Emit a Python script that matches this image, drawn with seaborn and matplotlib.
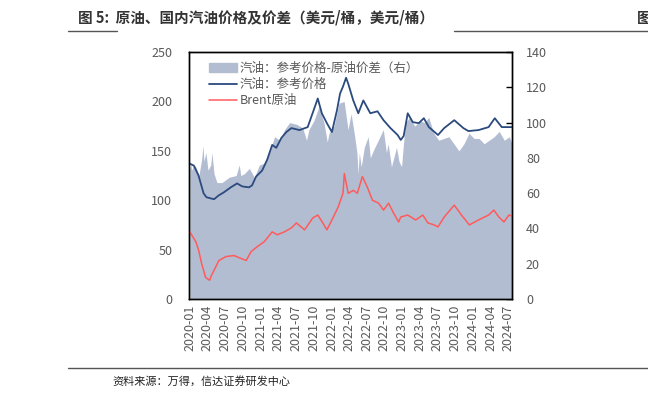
import pandas as pd
import seaborn as sns
import matplotlib.pyplot as plt
from matplotlib.patches import Patch
from matplotlib.lines import Line2D

# 汽油：参考价格（左轴）
gas_dates = ["2020-01-01", "2020-01-22", "2020-02-15", "2020-03-12", "2020-03-27", "2020-05-05",
             "2020-05-30", "2020-06-25", "2020-07-30", "2020-09-01", "2020-09-27", "2020-11-01",
             "2020-11-17", "2020-12-08", "2021-01-08", "2021-02-03", "2021-03-01", "2021-03-22",
             "2021-04-17", "2021-05-13", "2021-06-08", "2021-07-20", "2021-08-31", "2021-10-06",
             "2021-10-22", "2021-11-12", "2021-12-08", "2022-01-03", "2022-01-29", "2022-02-14",
             "2022-03-01", "2022-03-17", "2022-03-28", "2022-04-23", "2022-05-19", "2022-06-14",
             "2022-07-20", "2022-08-26", "2022-09-26", "2022-11-01", "2022-12-08", "2022-12-24",
             "2023-01-08", "2023-01-29", "2023-02-24", "2023-03-27", "2023-04-22", "2023-05-18",
             "2023-07-04", "2023-08-05", "2023-09-26", "2023-11-12", "2023-12-08", "2024-01-29",
             "2024-03-21", "2024-04-22", "2024-05-28", "2024-07-19"]
gas_price = [137, 135, 125, 107, 103, 101, 105, 108, 113, 117, 114, 113,
             115, 124, 130, 141, 156, 153, 163, 169, 173, 171, 174, 194,
             203, 188, 178, 169, 191, 208, 215, 224, 218, 201, 188, 201,
             188, 190, 181, 173, 166, 161, 165, 188, 179, 178, 183, 174,
             166, 173, 181, 173, 170, 171, 174, 183, 174, 174]

# Brent原油（左轴）
brent_dates = ["2020-01-01", "2020-02-01", "2020-02-15", "2020-03-02", "2020-03-22", "2020-04-12",
               "2020-04-22", "2020-05-05", "2020-05-30", "2020-07-06", "2020-08-16", "2020-09-22",
               "2020-10-18", "2020-11-12", "2020-12-14", "2021-01-19", "2021-03-01", "2021-03-27",
               "2021-05-03", "2021-06-08", "2021-07-04", "2021-08-15", "2021-09-26", "2021-10-22",
               "2021-11-17", "2021-12-08", "2022-01-03", "2022-02-04", "2022-03-01", "2022-03-08",
               "2022-03-28", "2022-04-23", "2022-05-14", "2022-06-09", "2022-07-05", "2022-07-31",
               "2022-09-01", "2022-09-26", "2022-10-22", "2022-11-17", "2022-12-13", "2022-12-24",
               "2023-01-29", "2023-03-11", "2023-04-17", "2023-05-13", "2023-06-14", "2023-07-04",
               "2023-08-05", "2023-09-26", "2023-11-02", "2023-12-13", "2024-01-29", "2024-03-21",
               "2024-04-17", "2024-05-13", "2024-06-08", "2024-07-04", "2024-07-19"]
brent_price = [68, 58, 50, 36, 22, 19, 24, 29, 39, 43, 44, 41,
               39, 48, 53, 58, 68, 65, 68, 72, 77, 70, 82, 85,
               77, 70, 80, 93, 107, 127, 107, 110, 107, 124, 113, 100,
               97, 90, 97, 87, 78, 83, 85, 80, 85, 77, 75, 73,
               83, 95, 85, 75, 80, 85, 90, 83, 78, 85, 84]

# 汽油：参考价格-原油价差（右轴）
spread_dates = ["2020-01-01", "2020-01-06", "2020-01-11", "2020-01-20", "2020-02-01", "2020-02-17",
                "2020-03-02", "2020-03-09", "2020-03-14", "2020-03-24", "2020-04-04", "2020-04-18",
                "2020-04-24", "2020-05-05", "2020-05-20", "2020-06-15", "2020-07-22", "2020-08-27",
                "2020-09-12", "2020-09-20", "2020-10-08", "2020-11-03", "2020-11-29", "2020-12-25",
                "2021-01-20", "2021-02-15", "2021-03-13", "2021-04-08", "2021-05-04", "2021-05-30",
                "2021-07-05", "2021-08-05", "2021-08-25", "2021-09-06", "2021-10-02", "2021-10-28",
                "2021-11-23", "2021-12-10", "2021-12-19", "2022-01-14", "2022-02-09", "2022-03-07",
                "2022-03-27", "2022-04-12", "2022-04-28", "2022-05-12", "2022-05-18", "2022-05-24",
                "2022-06-03", "2022-06-19", "2022-07-09", "2022-07-20", "2022-08-04", "2022-08-30",
                "2022-09-25", "2022-10-11", "2022-10-20", "2022-11-06", "2022-12-02", "2022-12-15",
                "2022-12-28", "2023-01-07", "2023-01-18", "2023-02-08", "2023-03-06", "2023-04-01",
                "2023-04-27", "2023-05-17", "2023-06-12", "2023-07-08", "2023-08-03", "2023-08-29",
                "2023-09-24", "2023-10-20", "2023-11-15", "2023-12-11", "2024-01-06", "2024-02-01",
                "2024-02-27", "2024-03-24", "2024-04-19", "2024-05-15", "2024-06-10", "2024-07-06",
                "2024-07-19"]
spread = [73, 77, 73, 76, 75, 70, 79, 87, 78, 83, 73, 76,
          83, 71, 66, 66, 69, 70, 76, 70, 71, 74, 69, 76,
          77, 83, 92, 90, 96, 100, 99, 97, 90, 96, 101, 109,
          100, 89, 94, 98, 111, 112, 96, 105, 94, 83, 71, 83,
          75, 86, 92, 80, 84, 90, 96, 83, 88, 75, 86, 78,
          75, 88, 100, 103, 98, 101, 100, 103, 94, 90, 91, 92,
          88, 84, 88, 94, 91, 91, 88, 90, 92, 95, 90, 92,
          88]

gas = pd.DataFrame({"date": pd.to_datetime(gas_dates), "value": gas_price})
brent = pd.DataFrame({"date": pd.to_datetime(brent_dates), "value": brent_price})
spr = pd.DataFrame({"date": pd.to_datetime(spread_dates), "value": spread})

sns.set_theme(style="white")
plt.rcParams["font.family"] = ["Noto Sans CJK SC", "DejaVu Sans"]
grey = "#595959"
navy = "#2b4a7e"
red = "#ff5b5b"
area_c = "#b3bdd2"

fig = plt.figure(figsize=(6.48, 3.98), dpi=100)
ax = fig.add_axes([0.2917, 0.2487, 0.4985, 0.6206])
ax2 = ax.twinx()

ax2.fill_between(spr["date"], spr["value"], color=area_c, lw=0)
sns.lineplot(data=gas, x="date", y="value", ax=ax, color=navy, lw=1.3)
sns.lineplot(data=brent, x="date", y="value", ax=ax, color=red, lw=1.1)

ax.set_zorder(ax2.get_zorder() + 1)
ax.patch.set_visible(False)

ax.set_xlim(pd.Timestamp("2019-12-28"), pd.Timestamp("2024-07-20"))
ax.set_ylim(0, 250)
ax2.set_ylim(0, 140)
ax.set_yticks(range(0, 251, 50))
ax2.set_yticks(range(0, 141, 20))
ax.set_xlabel("")
ax.set_ylabel("")
ax2.set_ylabel("")

ticks = pd.date_range("2020-01-01", "2024-07-01", freq="3MS")
ax.set_xticks(ticks)
ax.set_xticklabels([t.strftime("%Y-%m") for t in ticks], rotation=90)

for a in (ax, ax2):
    a.tick_params(direction="in", length=4, width=1, colors="black",
                  labelcolor=grey, labelsize=9, pad=6)
    for s in a.spines.values():
        s.set_color("black")
        s.set_linewidth(1)
ax.tick_params(axis="y", direction="out", length=0, pad=12)
ax2.tick_params(axis="y", pad=10)
ax.tick_params(axis="x", pad=4)

handles = [Patch(color=area_c, label="汽油：参考价格-原油价差（右）"),
           Line2D([], [], color=navy, lw=1.3, label="汽油：参考价格"),
           Line2D([], [], color=red, lw=1.1, label="Brent原油")]
leg = ax.legend(handles=handles, loc="upper left", bbox_to_anchor=(0.04, 0.99),
                frameon=False, fontsize=9, handlelength=2.2, handletextpad=0.2,
                labelspacing=0.25, borderaxespad=0.2)
for t in leg.get_texts():
    t.set_color(grey)

fig.text(0.12, 0.955, "图 5:  原油、国内汽油价格及价差（美元/桶，美元/桶）",
         fontsize=10.5, fontweight="bold", color="#333333", va="center")
fig.text(0.983, 0.955, "图", fontsize=10.5, fontweight="bold", color="#333333", va="center")
fig.add_artist(Line2D([0.105, 0.18], [0.922, 0.922], color="#555555", lw=1))
fig.add_artist(Line2D([0.70, 1.0], [0.922, 0.922], color="#555555", lw=1))
fig.add_artist(Line2D([0.105, 1.0], [0.075, 0.075], color="#555555", lw=1))
fig.text(0.173, 0.042, "资料来源：万得，信达证券研发中心", fontsize=8, color="#222222", va="center")

fig.savefig("out.png", dpi=100)
